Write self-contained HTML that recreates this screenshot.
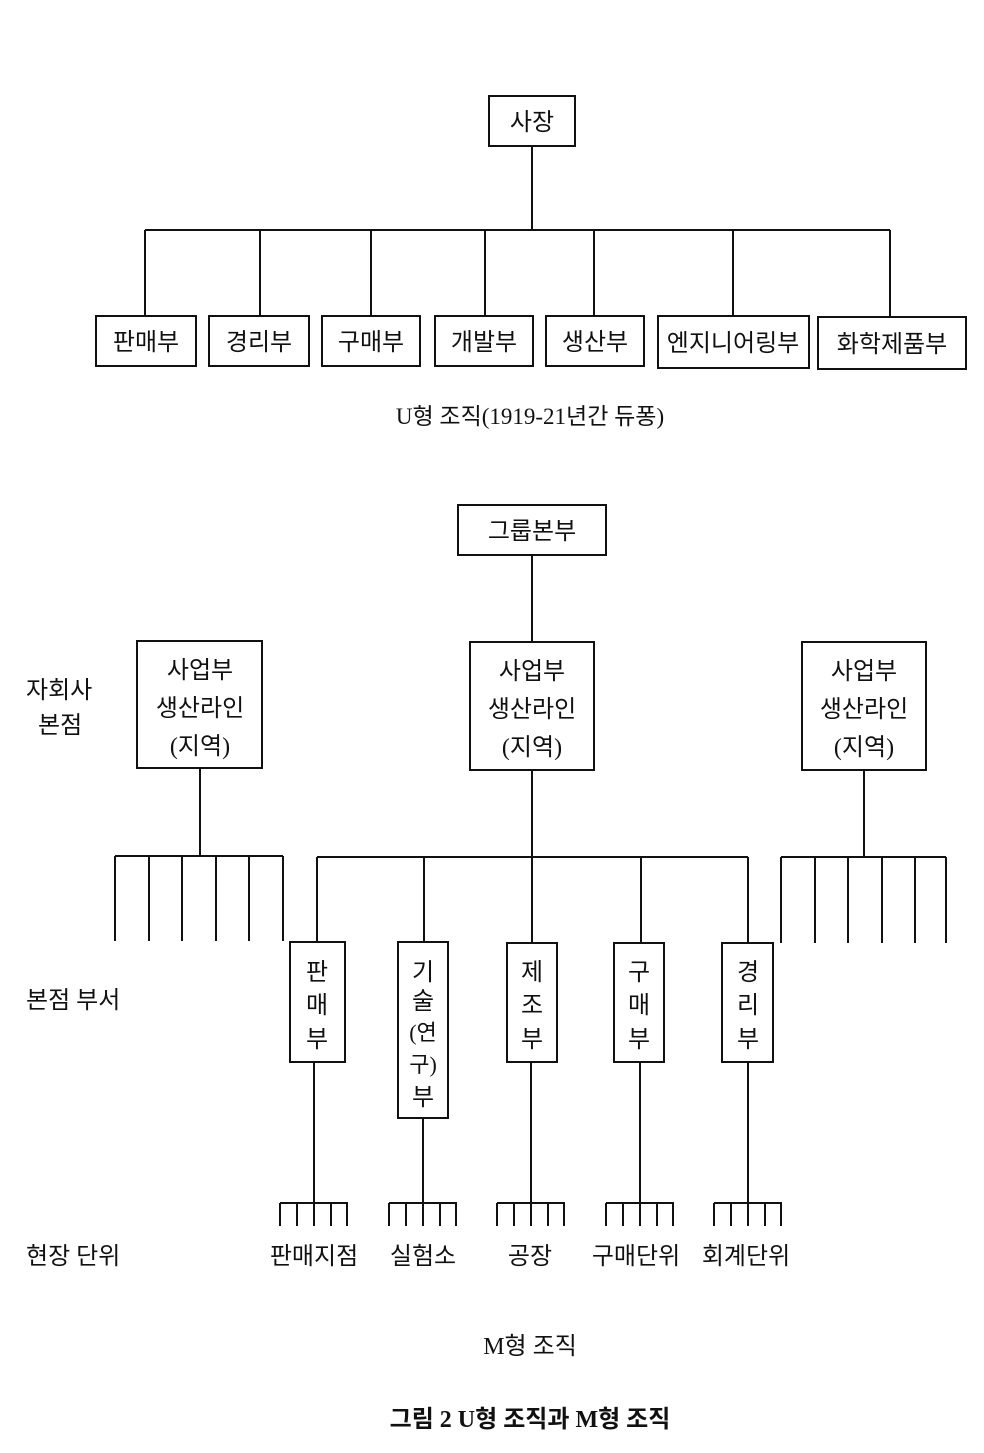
<!DOCTYPE html>
<html><head><meta charset="utf-8"><style>
html,body{margin:0;padding:0;background:#fff;}
svg text{font-family:"Liberation Serif","Noto Sans CJK KR","NanumGothic",sans-serif;fill:#111;}
</style></head><body>
<svg width="984" height="1448" viewBox="0 0 984 1448" xmlns="http://www.w3.org/2000/svg">
<g stroke="#111" stroke-width="2" fill="none">
<!-- U form -->
<rect x="489" y="96" width="86" height="50"/>
<line x1="532" y1="146" x2="532" y2="230"/>
<line x1="145" y1="230" x2="890" y2="230"/>
<line x1="145" y1="230" x2="145" y2="316"/>
<line x1="260" y1="230" x2="260" y2="316"/>
<line x1="371" y1="230" x2="371" y2="316"/>
<line x1="485" y1="230" x2="485" y2="316"/>
<line x1="594" y1="230" x2="594" y2="316"/>
<line x1="733" y1="230" x2="733" y2="316"/>
<line x1="890" y1="230" x2="890" y2="317"/>
<rect x="96" y="316" width="100" height="50"/>
<rect x="209" y="316" width="100" height="50"/>
<rect x="322" y="316" width="98" height="50"/>
<rect x="435" y="316" width="98" height="50"/>
<rect x="546" y="316" width="98" height="50"/>
<rect x="658" y="316" width="151" height="52"/>
<rect x="818" y="317" width="148" height="52"/>
<!-- M form -->
<rect x="458" y="505" width="148" height="50"/>
<line x1="532" y1="555" x2="532" y2="642"/>
<rect x="137" y="641" width="125" height="127"/>
<rect x="470" y="642" width="124" height="128"/>
<rect x="802" y="642" width="124" height="128"/>
<line x1="200" y1="768" x2="200" y2="856"/>
<line x1="115" y1="856" x2="283" y2="856"/>
<line x1="115" y1="856" x2="115" y2="941"/>
<line x1="149" y1="856" x2="149" y2="941"/>
<line x1="182" y1="856" x2="182" y2="941"/>
<line x1="216" y1="856" x2="216" y2="941"/>
<line x1="249" y1="856" x2="249" y2="941"/>
<line x1="283" y1="856" x2="283" y2="941"/>
<line x1="864" y1="770" x2="864" y2="857"/>
<line x1="781" y1="857" x2="946" y2="857"/>
<line x1="781" y1="857" x2="781" y2="943"/>
<line x1="815" y1="857" x2="815" y2="943"/>
<line x1="848" y1="857" x2="848" y2="943"/>
<line x1="882" y1="857" x2="882" y2="943"/>
<line x1="915" y1="857" x2="915" y2="943"/>
<line x1="946" y1="857" x2="946" y2="943"/>
<line x1="532" y1="770" x2="532" y2="943"/>
<line x1="317" y1="857" x2="748" y2="857"/>
<line x1="317" y1="857" x2="317" y2="942"/>
<line x1="424" y1="857" x2="424" y2="942"/>
<line x1="641" y1="857" x2="641" y2="943"/>
<line x1="748" y1="857" x2="748" y2="943"/>
<rect x="290" y="942" width="55" height="120"/>
<rect x="398" y="942" width="50" height="176"/>
<rect x="507" y="943" width="50" height="119"/>
<rect x="614" y="943" width="50" height="119"/>
<rect x="722" y="943" width="51" height="119"/>
<line x1="314" y1="1062" x2="314" y2="1203"/>
<line x1="423" y1="1118" x2="423" y2="1203"/>
<line x1="531" y1="1062" x2="531" y2="1203"/>
<line x1="640" y1="1062" x2="640" y2="1203"/>
<line x1="748" y1="1062" x2="748" y2="1203"/>
<g id="r">
<line x1="280" y1="1203" x2="348" y2="1203"/>
<line x1="280" y1="1203" x2="280" y2="1226"/>
<line x1="297" y1="1203" x2="297" y2="1226"/>
<line x1="314" y1="1203" x2="314" y2="1226"/>
<line x1="331" y1="1203" x2="331" y2="1226"/>
<line x1="347" y1="1203" x2="347" y2="1226"/>
</g>
<use href="#r" x="109"/>
<use href="#r" x="217"/>
<use href="#r" x="326"/>
<use href="#r" x="434"/>
</g>
<g font-size="24" text-anchor="middle">
<text x="532" y="130">사장</text>
<text x="146" y="350">판매부</text>
<text x="259" y="350">경리부</text>
<text x="371" y="350">구매부</text>
<text x="484" y="350">개발부</text>
<text x="595" y="350">생산부</text>
<text x="733" y="351">엔지니어링부</text>
<text x="892" y="352">화학제품부</text>
<text x="530" y="424" font-size="23">U형 조직(1919-21년간 듀퐁)</text>
<text x="532" y="539">그룹본부</text>
<text x="200" y="678">사업부</text><text x="200" y="716">생산라인</text><text x="200" y="754">(지역)</text>
<text x="532" y="679">사업부</text><text x="532" y="717">생산라인</text><text x="532" y="755">(지역)</text>
<text x="864" y="679">사업부</text><text x="864" y="717">생산라인</text><text x="864" y="755">(지역)</text>
<text x="317" y="980">판</text><text x="317" y="1013">매</text><text x="317" y="1047">부</text>
<text x="423" y="980">기</text><text x="423" y="1009">술</text><text x="423" y="1040" font-size="22">(연</text><text x="423" y="1072" font-size="22">구)</text><text x="423" y="1105">부</text>
<text x="532" y="980">제</text><text x="532" y="1013">조</text><text x="532" y="1047">부</text>
<text x="639" y="980">구</text><text x="639" y="1013">매</text><text x="639" y="1047">부</text>
<text x="748" y="980">경</text><text x="748" y="1013">리</text><text x="748" y="1047">부</text>
<text x="314" y="1264">판매지점</text>
<text x="423" y="1264">실험소</text>
<text x="530" y="1264">공장</text>
<text x="636" y="1264">구매단위</text>
<text x="746" y="1264">회계단위</text>
<text x="530" y="1354">M형 조직</text>
<text x="530" y="1427" font-weight="bold">그림 2  U형 조직과 M형 조직</text>
</g>
<g font-size="24">
<text x="26" y="698">자회사</text>
<text x="38" y="733">본점</text>
<text x="26" y="1008">본점 부서</text>
<text x="26" y="1264">현장 단위</text>
</g>
</svg>
</body></html>
